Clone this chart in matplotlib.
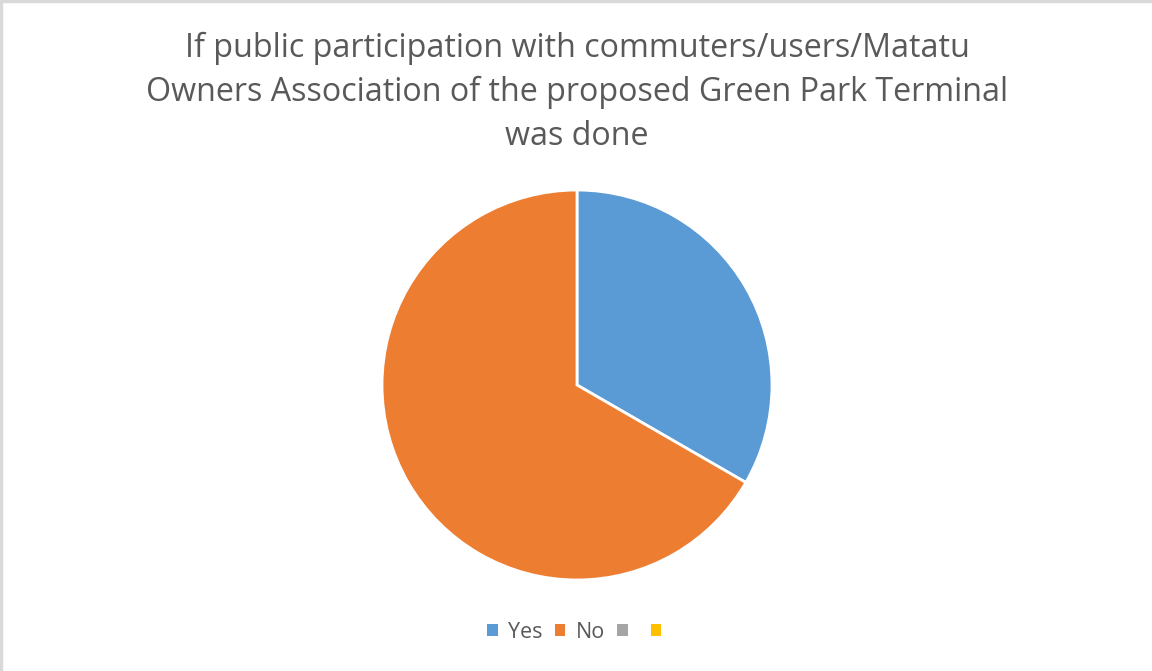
import matplotlib.pyplot as plt
from matplotlib.patches import Patch
from matplotlib.lines import Line2D

# Survey responses
labels = ["Yes", "No", "", ""]
counts = [1, 2, 0, 0]
colors = ["#5B9BD5", "#ED7D31", "#A5A5A5", "#FFC000"]

title = ("If public participation with commuters/users/Matatu\n"
         "Owners Association of the proposed Green Park Terminal\n"
         "was done")

plt.rcParams['font.family'] = ['Open Sans', 'DejaVu Sans']

fig = plt.figure(figsize=(11.52, 6.71), dpi=100)
fig.patch.set_facecolor("white")

# pie axes: centre ~(577, 385) px, radius ~194 px
r_px = 194
cx, cy = 577, 385
W, H = 1152, 671
ax = fig.add_axes([(cx - r_px) / W, 1 - (cy + r_px) / H, 2 * r_px / W, 2 * r_px / H])

vals = [c for c in counts if c > 0]
cols = [col for c, col in zip(counts, colors) if c > 0]
ax.pie(vals, colors=cols, startangle=90, counterclock=False,
       wedgeprops=dict(edgecolor="white", linewidth=2))
ax.set_xlim(-0.995, 0.995)
ax.set_ylim(-0.995, 0.995)
ax.set_aspect("equal")

fig.text(0.5009, 1 - 92 / H, title, ha="center", va="center",
         fontsize=23.2, color="#595959", linespacing=1.43)

handles = [Patch(facecolor=c, edgecolor="none") for c in colors]
fig.legend(handles, labels, loc="center", bbox_to_anchor=(0.503, 1 - 632 / H),
           ncol=4, frameon=False, fontsize=15.5, labelcolor="#595959",
           handlelength=0.5, handleheight=0.5, handletextpad=0.5,
           columnspacing=0.55)

# thin chart-area border along top and left
fig.add_artist(Line2D([1 / W, 1 / W], [0, 1], color="#D9D9D9", lw=2.5,
                      transform=fig.transFigure))
fig.add_artist(Line2D([0, 1], [1 - 1 / H, 1 - 1 / H], color="#D9D9D9", lw=2.5,
                      transform=fig.transFigure))

fig.savefig("out.png", dpi=100)
